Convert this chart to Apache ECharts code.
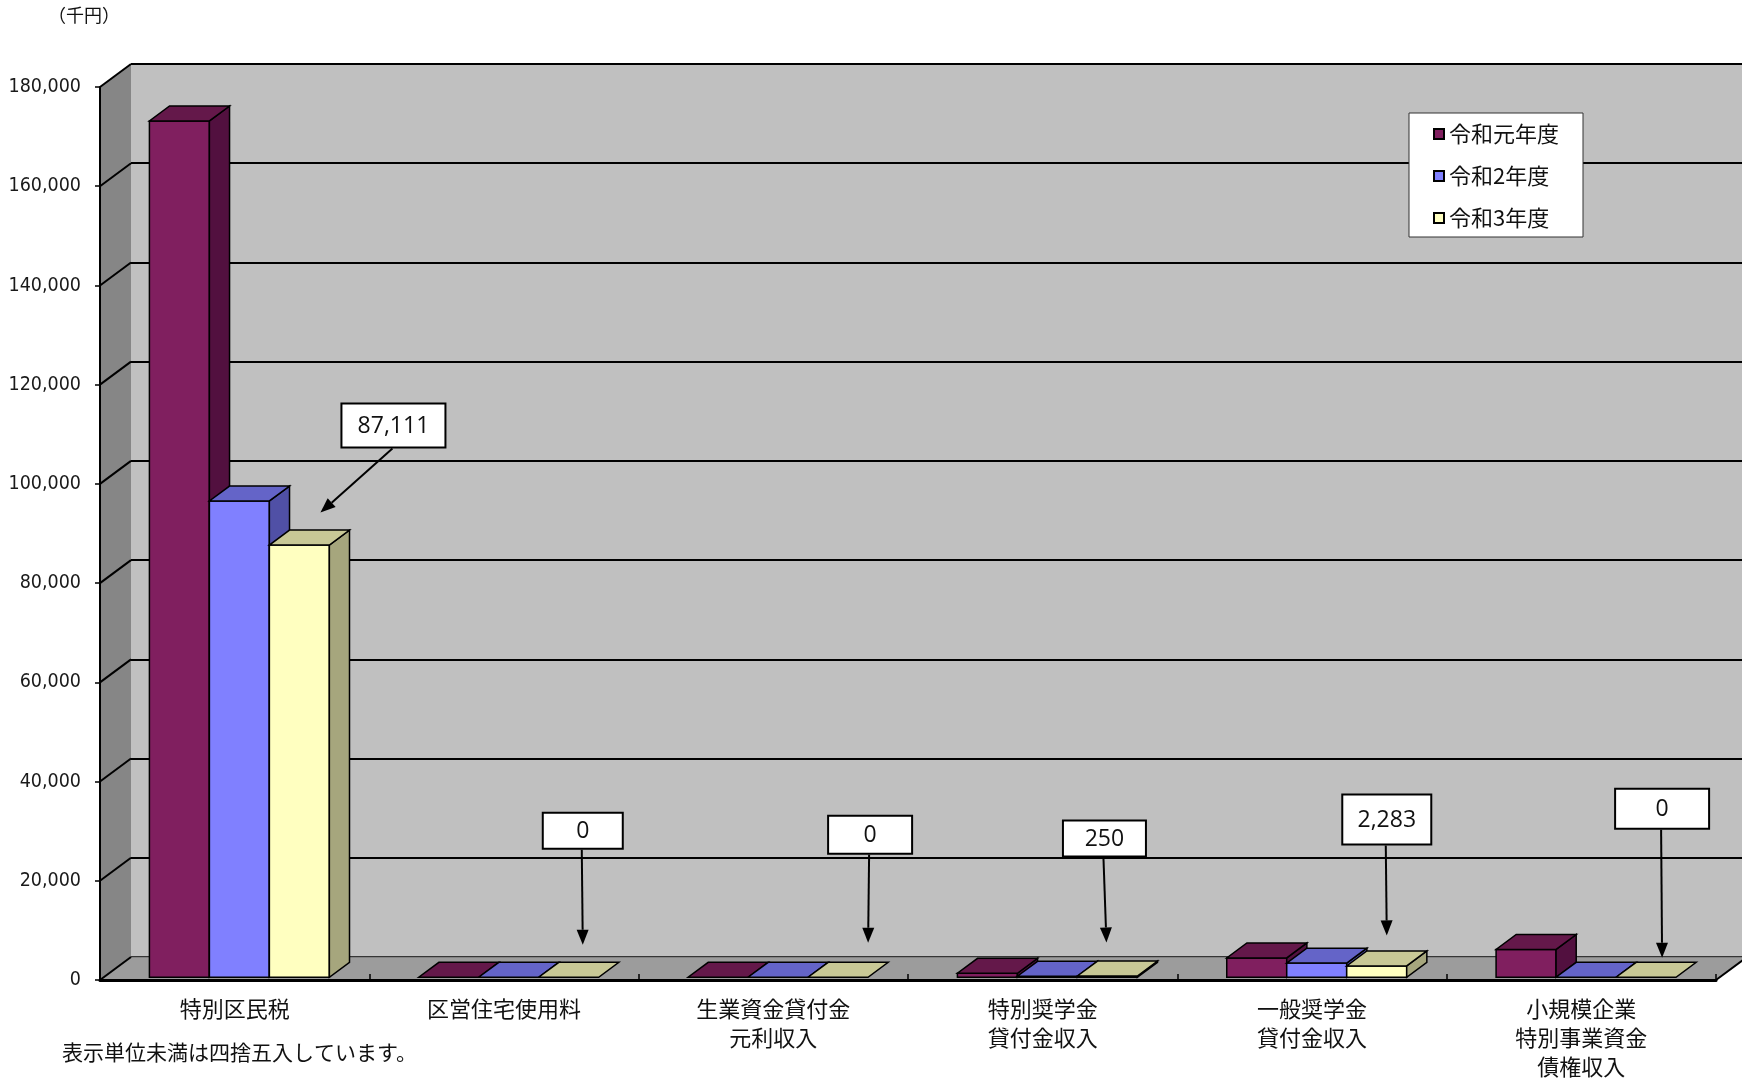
<!DOCTYPE html>
<html>
<head>
<meta charset="utf-8">
<script src="https://cdn.jsdelivr.net/npm/echarts@6/dist/echarts.min.js"></script>
<style>
  html, body { margin: 0; padding: 0; background: #ffffff; }
  #chart { width: 1742px; height: 1084px; }
</style>
</head>
<body>
<div id="chart"></div>
<script>
// ---- data ----
const categories = [
  '特別区民税',
  '区営住宅使用料',
  '生業資金貸付金\n元利収入',
  '特別奨学金\n貸付金収入',
  '一般奨学金\n貸付金収入',
  '小規模企業\n特別事業資金\n債権収入'
];
const seriesNames = ['令和元年度', '令和2年度', '令和3年度'];
const valuesR1 = [172600, 0, 0, 800, 3900, 5600];
const valuesR2 = [96000, 0, 0, 200, 2850, 0];
const valuesR3 = [87111, 0, 0, 250, 2283, 0];
const yMax = 180000;
const yStep = 20000;

// ---- look ----
const FONT_JP = "'Noto Sans CJK JP', 'Noto Sans', sans-serif";
const FONT_NUM = "'Liberation Sans Narrow', 'DejaVu Sans Condensed', 'Liberation Sans', sans-serif";
const FONT_CALLOUT = "'Open Sans', 'Noto Sans', sans-serif";
const barColors = [
  { front: '#801f5f', top: '#64184a', side: '#52103f' },
  { front: '#8080ff', top: '#6464c8', side: '#5050a6' },
  { front: '#ffffc0', top: '#c8c896', side: '#a6a67d' }
];
const DEPTH = [31, -23];          // pixel offset from the front plane to the back wall
const BAR_FRONT = 0.12;           // depth fraction where bar fronts sit
const BAR_BACK = 0.77;            // depth fraction where bar backs sit
const BAR_WIDTH = 0.2227;         // each bar as a fraction of the category band
const GROUP_SHIFT = 1;            // small sideways nudge of each bar group
const OUTLINE = { stroke: '#000', lineWidth: 1.5 };

// callout placement per category: tip offset from the top-face centre of the
// 令和3年度 bar, box centre offset from the tip, and box size
const calloutLayout = [
  { tip: [11, -25], box: [73, -87], size: [104, 44] },
  { tip: [4, -25], box: [0, -114], size: [80, 36] },
  { tip: [20, -27], box: [2, -108], size: [84, 38] },
  { tip: [-11, -26], box: [-2, -104], size: [83, 36] },
  { tip: [0, -23], box: [0, -116], size: [89, 50] },
  { tip: [6, -12], box: [0, -149], size: [94, 40] }
];

const fmt = v => Number(v).toLocaleString('en-US');

// bar geometry for series s at category index c with value v
function barBox(api, s, c, v) {
  const band = api.size([1, 0])[0];
  const w = band * BAR_WIDTH;
  const base = api.coord([c, 0]);
  const top = api.coord([c, v]);
  const fx = DEPTH[0] * BAR_FRONT, fy = DEPTH[1] * BAR_FRONT;
  const bx = DEPTH[0] * (BAR_BACK - BAR_FRONT), by = DEPTH[1] * (BAR_BACK - BAR_FRONT);
  const x0 = base[0] + (s - 1.5) * w + fx + GROUP_SHIFT;
  return { x0: x0, x1: x0 + w, yb: base[1] + fy, yt: top[1] + fy, bx: bx, by: by };
}

function makeBarRenderer(s) {
  const col = barColors[s];
  return function (params, api) {
    const c = api.value(0), v = api.value(1);
    const g = barBox(api, s, c, v);
    const children = [];
    if (g.yb - g.yt > 0.5) {
      children.push({ type: 'rect', shape: { x: g.x0, y: g.yt, width: g.x1 - g.x0, height: g.yb - g.yt },
        style: Object.assign({ fill: col.front }, OUTLINE) });
      children.push({ type: 'polygon', shape: { points: [[g.x1, g.yt], [g.x1 + g.bx, g.yt + g.by], [g.x1 + g.bx, g.yb + g.by], [g.x1, g.yb]] },
        style: Object.assign({ fill: col.side }, OUTLINE) });
    }
    children.push({ type: 'polygon', shape: { points: [[g.x0, g.yt], [g.x1, g.yt], [g.x1 + g.bx, g.yt + g.by], [g.x0 + g.bx, g.yt + g.by]] },
      style: Object.assign({ fill: col.top }, OUTLINE) });
    return { type: 'group', children: children };
  };
}

// side wall, floor and the slanted tick lines joining the front axis to the back wall
function renderFrame(params, api) {
  const band = api.size([1, 0])[0];
  const p0 = api.coord([0, 0]);
  const xL = p0[0] - band / 2;
  const xR = api.coord([categories.length - 1, 0])[0] + band / 2;
  const yB = p0[1];
  const yT = api.coord([0, yMax])[1];
  const dx = DEPTH[0], dy = DEPTH[1];
  const children = [
    { type: 'polygon', shape: { points: [[xL, yB], [xL, yT], [xL + dx, yT + dy], [xL + dx, yB + dy]] },
      style: { fill: '#868686' } },
    { type: 'polygon', shape: { points: [[xL, yB], [xR, yB], [xR + dx, yB + dy], [xL + dx, yB + dy]] },
      style: { fill: '#9c9c9c' } },
    { type: 'line', shape: { x1: xL + dx, y1: yB + dy, x2: xR + dx, y2: yB + dy },
      style: { stroke: '#6a6a6a', lineWidth: 1 } },
    { type: 'line', shape: { x1: xR, y1: yB, x2: xR + dx, y2: yB + dy },
      style: { stroke: '#000', lineWidth: 2 } }
  ];
  for (let t = 0; t <= yMax; t += yStep) {
    const y = api.coord([0, t])[1];
    children.push({ type: 'line', shape: { x1: xL, y1: y, x2: xL + dx, y2: y + dy },
      style: { stroke: '#000', lineWidth: 2 } });
  }
  return { type: 'group', children: children };
}

// value boxes with arrows pointing at the 令和3年度 bars
function renderCallout(params, api) {
  const c = api.value(0), v = api.value(1);
  const lay = calloutLayout[c];
  const g = barBox(api, 2, c, v);
  const cx = (g.x0 + g.x1) / 2 + g.bx / 2;
  const cy = g.yt + g.by / 2;
  const tip = [cx + lay.tip[0], cy + lay.tip[1]];
  const bc = [tip[0] + lay.box[0], tip[1] + lay.box[1]];
  const w = lay.size[0], h = lay.size[1];
  const start = [bc[0] - 1, bc[1] + h / 2 + 1];
  const ddx = tip[0] - start[0], ddy = tip[1] - start[1];
  const len = Math.sqrt(ddx * ddx + ddy * ddy);
  const ux = ddx / len, uy = ddy / len;
  const headL = 15, headW = 6;
  const hb = [tip[0] - ux * headL, tip[1] - uy * headL];
  return {
    type: 'group',
    children: [
      { type: 'line', shape: { x1: start[0], y1: start[1], x2: hb[0], y2: hb[1] },
        style: { stroke: '#000', lineWidth: 2 } },
      { type: 'polygon', shape: { points: [tip, [hb[0] - uy * headW, hb[1] + ux * headW], [hb[0] + uy * headW, hb[1] - ux * headW]] },
        style: { fill: '#000' } },
      { type: 'rect', shape: { x: bc[0] - w / 2, y: bc[1] - h / 2, width: w, height: h },
        style: { fill: '#fff', stroke: '#000', lineWidth: 2 } },
      { type: 'text', x: bc[0], y: bc[1] + 1,
        style: { text: fmt(v), fill: '#111', font: '23px ' + FONT_CALLOUT, align: 'center', verticalAlign: 'middle' } }
    ]
  };
}

const toPairs = arr => arr.map((v, i) => [i, v]);

const chart = echarts.init(document.getElementById('chart'), null, { renderer: 'canvas' });

chart.setOption({
  animation: false,
  backgroundColor: '#ffffff',
  graphic: [
    { type: 'text', left: 48, top: 6,
      style: { text: '（千円）', fill: '#111', font: '18px ' + FONT_JP } },
    { type: 'text', left: 62, top: 1042,
      style: { text: '表示単位未満は四捨五入しています。', fill: '#111', font: '21px ' + FONT_JP } }
  ],
  legend: {
    data: seriesNames,
    orient: 'vertical',
    left: 1409,
    top: 113,
    padding: [10, 24, 8, 24],
    itemGap: 20,
    itemWidth: 10,
    itemHeight: 10,
    icon: 'rect',
    backgroundColor: '#ffffff',
    borderColor: '#333',
    borderWidth: 1,
    itemStyle: { borderColor: '#000', borderWidth: 2 },
    textStyle: { fontFamily: FONT_JP, fontSize: 22, lineHeight: 22, color: '#111' },
    selectedMode: false
  },
  grid: [
    // front plane
    { left: 100, right: 26, top: 87, bottom: 104, containLabel: false },
    // back wall
    { left: 131, right: -5, top: 64, bottom: 127, containLabel: false,
      show: true, backgroundColor: '#c0c0c0', borderWidth: 0 }
  ],
  xAxis: [
    { type: 'category', gridIndex: 0, data: categories, z: 10,
      axisLine: { show: true, lineStyle: { color: '#000', width: 3 } },
      axisTick: { show: true, inside: true, length: 6, lineStyle: { color: '#000', width: 1.5 } },
      axisLabel: { fontFamily: FONT_JP, fontSize: 22, lineHeight: 29, color: '#111', margin: 14, interval: 0 } },
    { type: 'category', gridIndex: 1, data: categories, show: false }
  ],
  yAxis: [
    { type: 'value', gridIndex: 0, min: 0, max: yMax, interval: yStep, z: 10,
      axisLine: { show: true, lineStyle: { color: '#000', width: 2 } },
      axisTick: { show: true, inside: false, length: 5, lineStyle: { color: '#000', width: 1.5 } },
      axisLabel: { fontFamily: FONT_NUM, fontSize: 19.5, color: '#1a1a1a', margin: 19, formatter: fmt },
      splitLine: { show: false } },
    { type: 'value', gridIndex: 1, min: 0, max: yMax, interval: yStep,
      axisLine: { show: false }, axisTick: { show: false }, axisLabel: { show: false },
      splitLine: { show: true, lineStyle: { color: '#000', width: 2 } } }
  ],
  series: [
    { type: 'custom', name: 'frame', xAxisIndex: 0, yAxisIndex: 0, z: 1, silent: true,
      renderItem: renderFrame, data: [[0, 0]], encode: { x: 0, y: 1 } },
    { type: 'custom', name: seriesNames[0], xAxisIndex: 0, yAxisIndex: 0, z: 2,
      itemStyle: { color: barColors[0].front }, renderItem: makeBarRenderer(0),
      data: toPairs(valuesR1), encode: { x: 0, y: 1 } },
    { type: 'custom', name: seriesNames[1], xAxisIndex: 0, yAxisIndex: 0, z: 2,
      itemStyle: { color: barColors[1].front }, renderItem: makeBarRenderer(1),
      data: toPairs(valuesR2), encode: { x: 0, y: 1 } },
    { type: 'custom', name: seriesNames[2], xAxisIndex: 0, yAxisIndex: 0, z: 2,
      itemStyle: { color: barColors[2].front }, renderItem: makeBarRenderer(2),
      data: toPairs(valuesR3), encode: { x: 0, y: 1 } },
    { type: 'custom', name: 'callouts', xAxisIndex: 0, yAxisIndex: 0, z: 3, silent: true,
      renderItem: renderCallout, data: toPairs(valuesR3), encode: { x: 0, y: 1 } }
  ]
});
</script>
</body>
</html>
